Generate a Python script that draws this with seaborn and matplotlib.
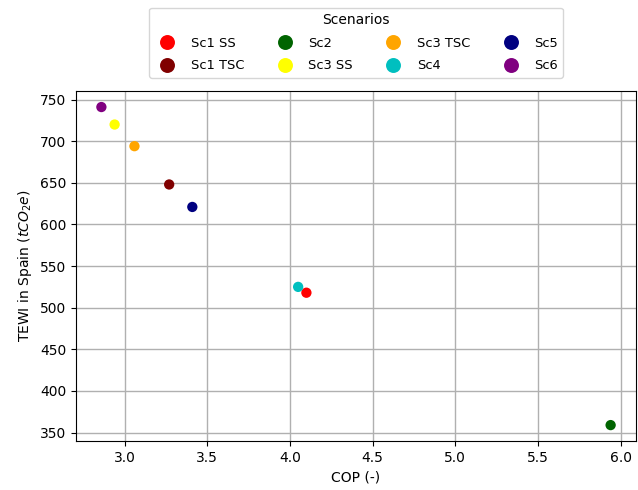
import pandas as pd
import matplotlib
matplotlib.use("Agg")
import matplotlib.pyplot as plt
import seaborn as sns

# values
scenarios = ["Sc1 SS", "Sc1 TSC", "Sc2", "Sc3 SS", "Sc3 TSC", "Sc4", "Sc5", "Sc6"]
cop = [4.10, 3.27, 5.94, 2.94, 3.06, 4.05, 3.41, 2.86]
tewi = [518, 648, 359, 720, 694, 525, 621, 741]
colors = ["red", "#800000", "#006400", "yellow", "orange", "c", "navy", "purple"]

df = pd.DataFrame({"Scenario": scenarios, "COP": cop, "TEWI": tewi})

fig, ax = plt.subplots(figsize=(6.38, 4.9), dpi=100)
sns.scatterplot(data=df, x="COP", y="TEWI", hue="Scenario", hue_order=scenarios,
                palette=colors, s=55, edgecolor="none", ax=ax, zorder=3)

ax.set_xlabel("COP (-)")
ax.set_ylabel("TEWI in Spain ($tCO_2e$)")
ax.grid(True, color="#b0b0b0", linewidth=1)
ax.set_axisbelow(True)

ax.legend(title="Scenarios", ncol=4, loc="lower center", bbox_to_anchor=(0.5, 1.02),
          fontsize=9.4, title_fontsize=10, markerscale=1.45, columnspacing=2.1,
          labelspacing=0.75, frameon=True)

plt.subplots_adjust(left=0.119, right=0.997, top=0.814, bottom=0.1)
plt.savefig("out.png", dpi=100)
